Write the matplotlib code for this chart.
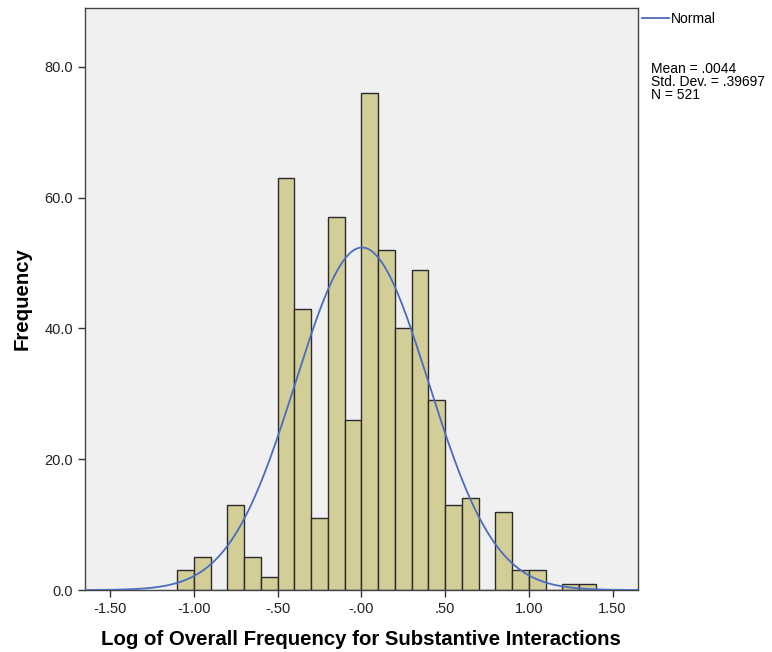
import matplotlib
matplotlib.use("Agg")
import matplotlib.pyplot as plt
import numpy as np

plt.rcParams["font.family"] = ["Liberation Sans", "DejaVu Sans"]

# histogram bins (width 0.1) and counts
bin_left = [-1.1, -1.0, -0.9, -0.8, -0.7, -0.6, -0.5, -0.4, -0.3, -0.2, -0.1,
            0.0, 0.1, 0.2, 0.3, 0.4, 0.5, 0.6, 0.7, 0.8, 0.9, 1.0, 1.1, 1.2, 1.3]
counts = [3, 5, 0, 13, 5, 2, 63, 43, 11, 57, 26,
          76, 52, 40, 49, 29, 13, 14, 0, 12, 3, 3, 0, 1, 1]
bin_width = 0.1

mean, sd, n = 0.0044, 0.39697, 521

xticks = [-1.5, -1.0, -0.5, 0.0, 0.5, 1.0, 1.5]
xticklabels = ["-1.50", "-1.00", "-.50", "-.00", ".50", "1.00", "1.50"]
yticks = [0, 20, 40, 60, 80]
yticklabels = ["0.0", "20.0", "40.0", "60.0", "80.0"]

C_BAR = "#d3ce97"
C_EDGE = "#2b2b2b"
C_LINE = "#4a6cc2"

fig = plt.figure(figsize=(7.72, 6.52), dpi=100)
fig.patch.set_facecolor("white")
ax = fig.add_axes([0.110, 0.095, 0.716, 0.893])
ax.set_facecolor("#f0f0f0")

ax.bar(bin_left, counts, width=bin_width, align="edge", color=C_BAR,
       edgecolor=C_EDGE, linewidth=1.0, zorder=2)

xs = np.linspace(-1.65, 1.65, 400)
pdf = np.exp(-0.5 * ((xs - mean) / sd) ** 2) / (sd * np.sqrt(2 * np.pi))
ax.plot(xs, pdf * n * bin_width, color=C_LINE, linewidth=1.3, zorder=3)

ax.set_xlim(-1.65, 1.65)
ax.set_ylim(0, 89)
ax.set_xticks(xticks)
ax.set_xticklabels(xticklabels, fontsize=10.5, color="#222222")
ax.set_yticks(yticks)
ax.set_yticklabels(yticklabels, fontsize=10.5, color="#222222")
ax.tick_params(direction="out", length=5, width=1, color="#333333")
for s in ax.spines.values():
    s.set_color("#444444")
    s.set_linewidth(1.0)

ax.set_xlabel("Log of Overall Frequency for Substantive Interactions",
              fontsize=14.7, fontweight="bold", labelpad=10)
ax.set_ylabel("Frequency", fontsize=14.7, fontweight="bold", labelpad=9)

# legend and stats outside the plot on the right
fig.add_artist(plt.Line2D([0.832, 0.866], [0.972, 0.972], color=C_LINE,
                          linewidth=1.3))
fig.text(0.869, 0.971, "Normal", fontsize=10, va="center", ha="left")
fig.text(0.843, 0.905, "Mean = .0044\nStd. Dev. = .39697\nN = 521",
         fontsize=10, va="top", ha="left", linespacing=0.93)

plt.savefig("out.png", dpi=100, facecolor="white")
